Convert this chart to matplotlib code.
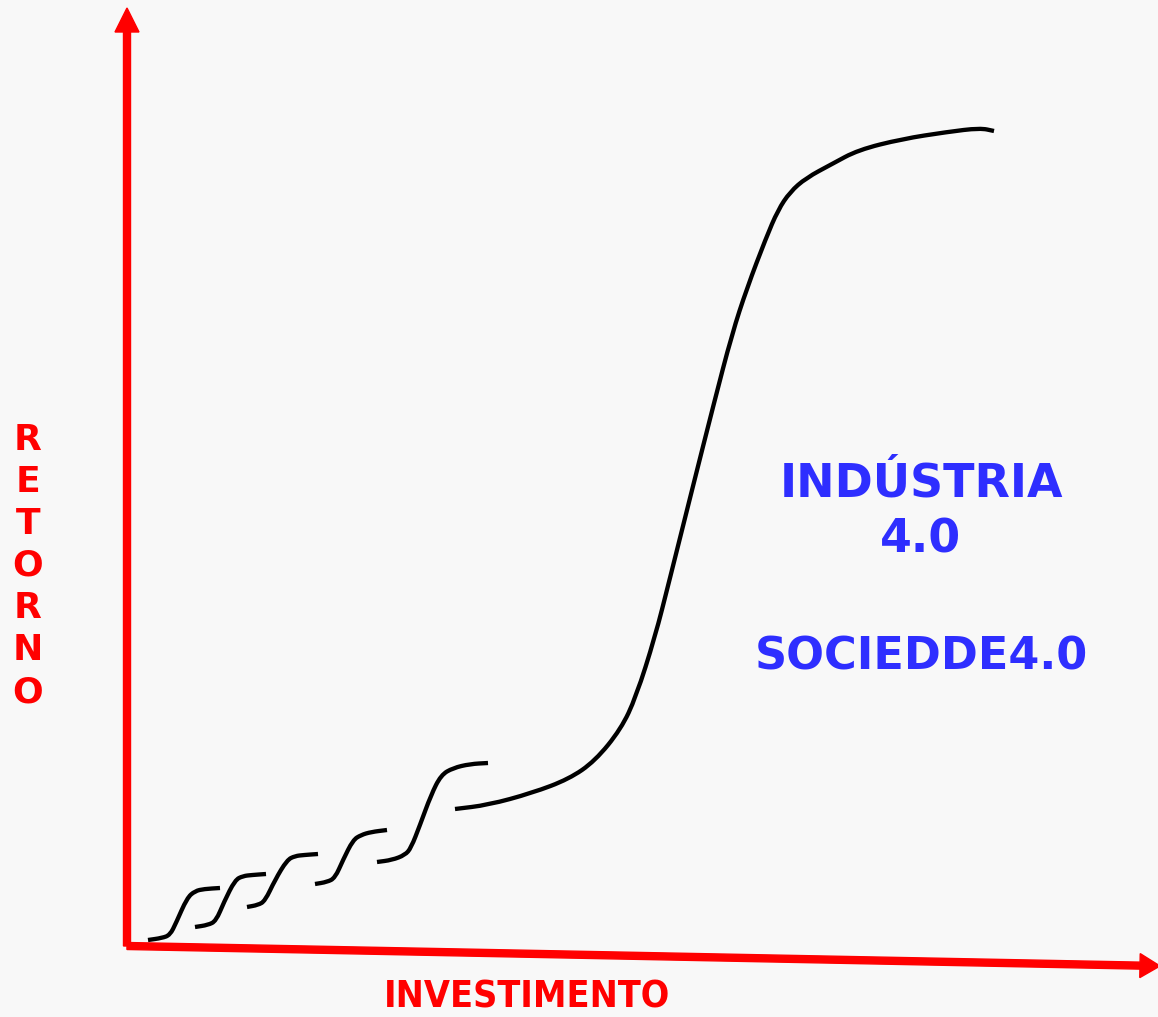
import numpy as np
import matplotlib.pyplot as plt
from matplotlib.path import Path
from matplotlib.patches import PathPatch

# small incremental steps (x, y in canvas pixels, y grows downward)
step_x = [
    [148, 162, 170, 176, 187, 195, 204, 220],
    [195, 208, 216, 224, 235, 243, 252, 266],
    [247, 258, 265, 275, 287, 295, 304, 318],
    [315, 327, 335, 343, 353, 361, 371, 387],
    [377, 392, 405, 411, 420, 431, 441, 453, 470, 488],
]
step_y = [
    [940, 938, 935, 923, 898, 891, 889, 888],
    [927, 925, 921, 902, 880, 876, 875, 874],
    [907, 905, 901, 880, 860, 856, 855, 854],
    [884, 882, 878, 860, 840, 835, 832, 830],
    [862, 860, 855, 848, 825, 795, 775, 768, 764, 763],
]

# the big jump
big_x = [455, 488, 532, 569, 595, 621, 636, 655, 669, 692, 714, 732, 747,
         766, 778, 790, 806, 832, 858, 902, 947, 980, 994]
big_y = [809, 805, 793, 779, 761, 729, 697, 637, 582, 490, 403, 334, 288,
         238, 210, 192, 178, 164, 150, 139, 132, 128, 131]

bg = '#f8f8f8'
red = '#ff0000'
blue = '#2e2eff'


def smooth_path(xs, ys):
    # quadratic segments through the midpoints of the given vertices
    pts = np.column_stack([xs, ys]).astype(float)
    verts = [pts[0], (pts[0] + pts[1]) / 2]
    codes = [Path.MOVETO, Path.LINETO]
    for i in range(1, len(pts) - 1):
        verts += [pts[i], (pts[i] + pts[i + 1]) / 2]
        codes += [Path.CURVE3, Path.CURVE3]
    verts.append(pts[-1])
    codes.append(Path.LINETO)
    return Path(verts, codes)


fig = plt.figure(figsize=(11.58, 10.17), dpi=100, facecolor=bg)
ax = fig.add_axes([0, 0, 1, 1])
ax.set_facecolor(bg)
ax.set_xlim(0, 1158)
ax.set_ylim(1017, 0)
ax.axis('off')

# axes arrows
ax.arrow(127, 946, 0, -938, width=7, head_width=24, head_length=24,
         color=red, length_includes_head=True)
ax.arrow(127, 946, 1033, 20, width=7, head_width=24, head_length=20,
         color=red, length_includes_head=True)

for xs, ys in zip(step_x + [big_x], step_y + [big_y]):
    ax.add_patch(PathPatch(smooth_path(xs, ys), facecolor='none',
                           edgecolor='black', lw=3.1, capstyle='butt',
                           joinstyle='round'))

# axis labels
ax.text(28, 566, '\n'.join('RETORNO'), color=red, fontsize=26,
        fontweight='bold', ha='center', va='center', linespacing=1.3)
ax.text(527, 998, 'INVESTIMENTO', color=red, fontsize=27,
        fontweight='bold', ha='center', va='center',
        family=['Liberation Sans Narrow', 'DejaVu Sans'],
        fontstretch='condensed')

ax.text(921, 512, 'INDÚSTRIA\n4.0', color=blue, fontsize=33,
        fontweight='bold', ha='center', va='center', linespacing=1.3)
ax.text(921, 657, 'SOCIEDDE4.0', color=blue, fontsize=32,
        fontweight='bold', ha='center', va='center')

fig.savefig('out.png', dpi=100, facecolor=bg)
